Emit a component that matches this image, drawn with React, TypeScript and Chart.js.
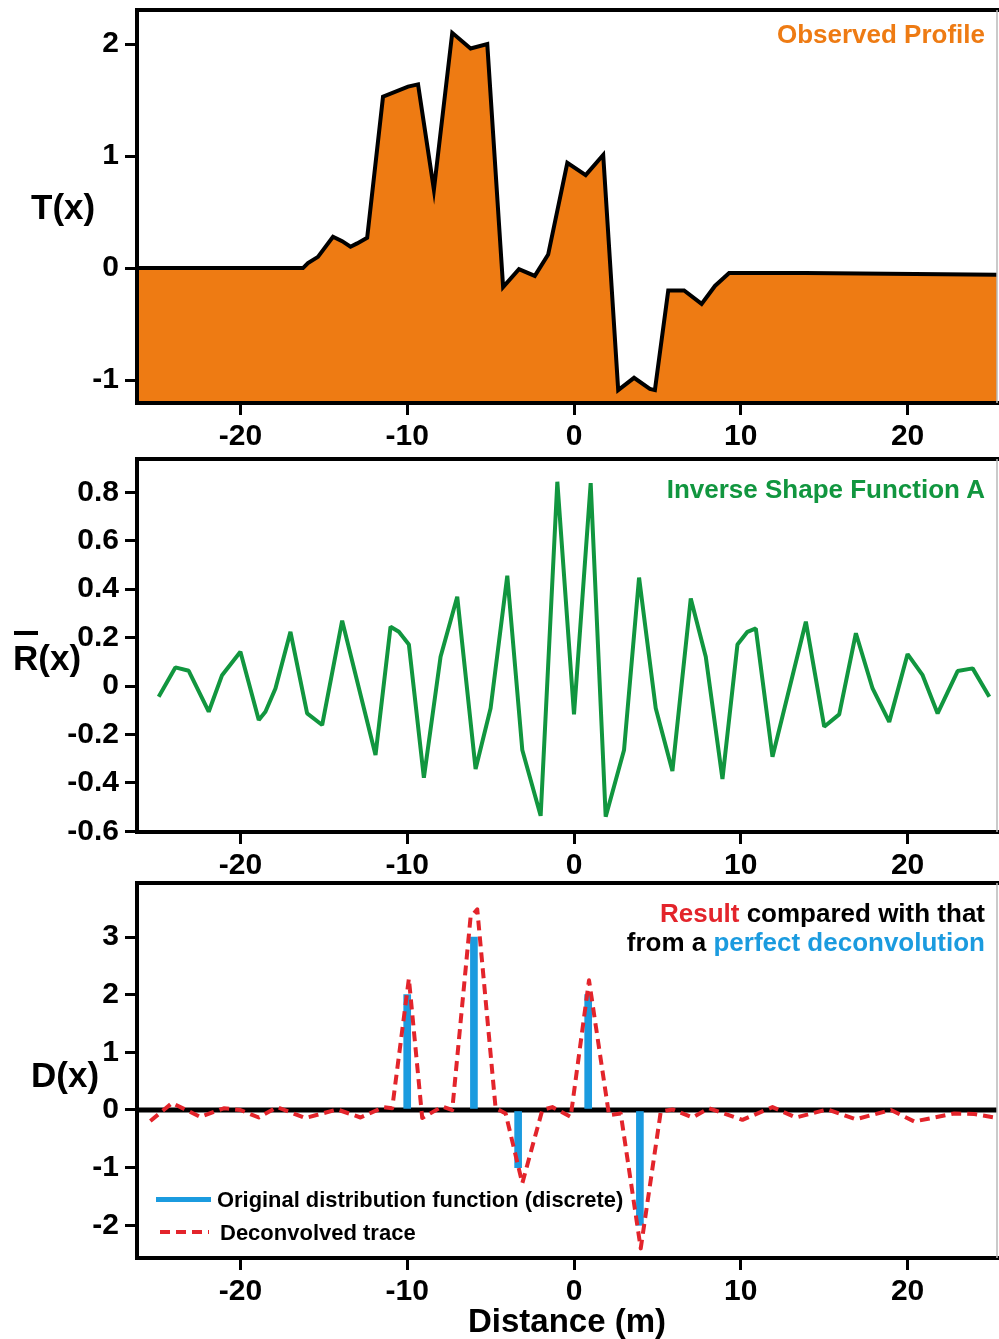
import React, { useEffect, useRef } from 'react';
import { Chart, registerables } from 'chart.js';
Chart.register(...registerables);

// ---------- data ----------
const xTickValues = [-20, -10, 0, 10, 20];
const xTickLabels = ['-20', '-10', '0', '10', '20'];

// Observed profile T(x)
const profileX = [-26.5, -16.25, -15.95, -15.35, -14.45, -13.9, -13.4, -13.0, -12.4, -11.45, -9.95, -9.35, -8.4, -7.3, -6.2, -5.2, -4.25, -3.3, -2.35, -1.55, -0.4, 0.7, 1.75, 2.65, 3.6, 4.55, 4.85, 5.65, 6.6, 7.65, 8.45, 9.3, 13.85, 26];
const profileT = [0, 0, 0.045, 0.1, 0.28, 0.24, 0.19, 0.22, 0.27, 1.53, 1.62, 1.64, 0.7, 2.1, 1.96, 2.0, -0.17, -0.01, -0.07, 0.12, 0.94, 0.83, 1.01, -1.09, -0.98, -1.08, -1.09, -0.2, -0.2, -0.32, -0.16, -0.045, -0.045, -0.06];
const tTickValues = [-1, 0, 1, 2];
const tTickLabels = ['-1', '0', '1', '2'];

// Inverse shape function R(x)
const shapeX = [-24.9, -23.9, -23.1, -21.9, -21.1, -20.0, -18.9, -18.5, -17.9, -17.0, -16.0, -15.1, -13.9, -11.9, -11.0, -10.5, -9.9, -9.0, -8.0, -7.0, -5.9, -5.0, -4.0, -3.1, -2.0, -1.0, 0.0, 1.0, 1.9, 3.0, 3.9, 4.9, 5.9, 7.0, 7.9, 8.9, 9.8, 10.4, 10.9, 11.9, 13.9, 15.0, 15.9, 16.9, 17.9, 18.9, 20.0, 20.9, 21.8, 23.0, 23.9, 24.9];
const shapeR = [-0.044, 0.077, 0.063, -0.106, 0.045, 0.142, -0.14, -0.106, -0.01, 0.224, -0.113, -0.161, 0.27, -0.285, 0.245, 0.224, 0.172, -0.379, 0.121, 0.369, -0.343, -0.092, 0.456, -0.264, -0.536, 0.844, -0.117, 0.838, -0.54, -0.264, 0.448, -0.092, -0.351, 0.362, 0.121, -0.384, 0.172, 0.224, 0.238, -0.292, 0.266, -0.168, -0.117, 0.218, -0.01, -0.148, 0.132, 0.045, -0.113, 0.062, 0.073, -0.044];
const rTickValues = [-0.6, -0.4, -0.2, 0, 0.2, 0.4, 0.6, 0.8];
const rTickLabels = ['-0.6', '-0.4', '-0.2', '0', '0.2', '0.4', '0.6', '0.8'];

// Deconvolved trace D(x)
const traceX = [-25.4, -24.1, -22.4, -21.0, -20.0, -18.9, -17.8, -16.1, -14.2, -12.8, -11.4, -10.9, -9.9, -9.1, -7.9, -7.3, -6.2, -5.8, -4.7, -4.1, -3.1, -1.9, -1.3, -0.2, 0.9, 2.1, 2.8, 4.0, 5.2, 5.9, 7.1, 8.1, 10.1, 11.9, 13.3, 15.2, 16.9, 19.0, 20.4, 22.8, 24.0, 25.4];
const traceD = [-0.19, 0.12, -0.12, 0.03, 0.0, -0.13, 0.05, -0.14, 0.01, -0.13, 0.05, 0.03, 2.28, -0.14, 0.06, 0.0, 3.35, 3.48, 0.03, -0.06, -1.27, 0.0, 0.05, -0.12, 2.25, -0.09, -0.06, -2.4, -0.03, 0.01, -0.13, 0.03, -0.17, 0.05, -0.13, 0.01, -0.16, 0.0, -0.2, -0.06, -0.07, -0.14];
// Original distribution function (discrete)
const spikeX = [-10, -6, -3.35, 0.85, 3.95];
const spikeD = [2, 3, -1, 2, -2];
const dTickValues = [-2, -1, 0, 1, 2, 3];
const dTickLabels = ['-2', '-1', '0', '1', '2', '3'];

// ---------- styling ----------
const FONT = '"Liberation Sans", Arial, Helvetica, sans-serif';
const ORANGE = '#EE7B13';
const GREEN = '#11963F';
const RED = '#E3242B';
const BLUE = '#1B9BDF';
const X_MIN = -26.2;
const X_MAX = 25.36;
const tickFont = { family: FONT, size: 30, weight: 'bold' as const };

const pts = (xs: number[], ys: number[]) => xs.map((x, i) => ({ x, y: ys[i] }));

const framePlugin = {
  id: 'frame',
  afterDatasetsDraw(chart: any) {
    const { ctx, chartArea: a } = chart;
    ctx.save();
    ctx.strokeStyle = '#000';
    ctx.lineWidth = 4;
    ctx.lineCap = 'square';
    ctx.beginPath();
    ctx.moveTo(a.right, a.top);
    ctx.lineTo(a.left, a.top);
    ctx.lineTo(a.left, a.bottom);
    ctx.lineTo(a.right, a.bottom);
    ctx.stroke();
    ctx.strokeStyle = '#b8b8b8';
    ctx.lineWidth = 1.5;
    ctx.lineCap = 'butt';
    ctx.beginPath();
    ctx.moveTo(a.right, a.top);
    ctx.lineTo(a.right, a.bottom);
    ctx.stroke();
    ctx.restore();
  },
};

const zeroLinePlugin = {
  id: 'zeroLine',
  beforeDatasetsDraw(chart: any) {
    const { ctx, chartArea: a, scales } = chart;
    const y = scales.y.getPixelForValue(0);
    ctx.save();
    ctx.strokeStyle = '#000';
    ctx.lineWidth = 5;
    ctx.beginPath();
    ctx.moveTo(a.left, y);
    ctx.lineTo(a.right, y);
    ctx.stroke();
    ctx.restore();
  },
};

function xScale(axisHeight: number) {
  return {
    type: 'linear',
    min: X_MIN,
    max: X_MAX,
    offset: false,
    afterBuildTicks: (s: any) => {
      s.ticks = xTickValues.map((v) => ({ value: v }));
    },
    afterFit: (s: any) => {
      s.height = axisHeight;
      s.paddingLeft = 0;
      s.paddingRight = 0;
    },
    grid: { display: true, drawOnChartArea: false, drawTicks: true, tickLength: 12, color: '#000', lineWidth: 3, offset: false },
    border: { display: false },
    ticks: { font: tickFont, color: '#000', padding: 4, maxRotation: 0, autoSkip: false, callback: (_v: any, i: number) => xTickLabels[i] },
  };
}

function yScale(min: number, max: number, values: number[], labels: string[]) {
  return {
    type: 'linear',
    min,
    max,
    afterBuildTicks: (s: any) => {
      s.ticks = values.map((v) => ({ value: v }));
    },
    afterFit: (s: any) => {
      s.width = 137;
      s.paddingTop = 0;
      s.paddingBottom = 0;
    },
    grid: { display: true, drawOnChartArea: false, drawTicks: true, tickLength: 12, color: '#000', lineWidth: 3 },
    border: { display: false },
    ticks: { font: tickFont, color: '#000', padding: 6, autoSkip: false, callback: (_v: any, i: number) => labels[i] },
  };
}

function baseOptions(padTop: number, scales: any) {
  return {
    responsive: false,
    animation: false,
    devicePixelRatio: 1,
    layout: { padding: { top: padTop, right: 2, left: 0, bottom: 0 } },
    plugins: { legend: { display: false }, tooltip: { enabled: false } },
    elements: { point: { radius: 0 }, line: { tension: 0 } },
    scales,
  };
}

function buildProfile() {
  return {
    type: 'line',
    data: {
      datasets: [
        {
          label: 'Observed Profile',
          data: pts(profileX, profileT),
          borderColor: '#000',
          borderWidth: 4,
          borderJoinStyle: 'miter',
          backgroundColor: ORANGE,
          fill: 'start',
          pointRadius: 0,
        },
      ],
    },
    options: baseOptions(10, { x: xScale(47), y: yScale(-1.205, 2.304, tTickValues, tTickLabels) }),
    plugins: [framePlugin],
  };
}

function buildShape() {
  return {
    type: 'line',
    data: {
      datasets: [
        {
          label: 'Inverse Shape Function A',
          data: pts(shapeX, shapeR),
          borderColor: GREEN,
          borderWidth: 4,
          borderJoinStyle: 'bevel',
          fill: false,
          pointRadius: 0,
        },
      ],
    },
    options: baseOptions(9, { x: xScale(48), y: yScale(-0.603, 0.938, rTickValues, rTickLabels) }),
    plugins: [framePlugin],
  };
}

function buildResult() {
  const x: any = xScale(81);
  x.title = {
    display: true,
    text: 'Distance (m)',
    color: '#000',
    font: { family: FONT, size: 33, weight: 'bold' },
    padding: { top: 0, bottom: -4 },
  };
  return {
    type: 'line',
    data: {
      datasets: [
        {
          type: 'line',
          label: 'Deconvolved trace',
          data: pts(traceX, traceD),
          borderColor: RED,
          borderWidth: 4,
          borderDash: [10, 6],
          borderJoinStyle: 'round',
          fill: false,
          pointRadius: 0,
        },
        {
          type: 'bar',
          label: 'Original distribution function (discrete)',
          data: pts(spikeX, spikeD),
          backgroundColor: BLUE,
          borderWidth: 0,
          barThickness: 7,
          grouped: false,
        },
      ],
    },
    options: baseOptions(3, { x, y: yScale(-2.567, 3.937, dTickValues, dTickLabels) }),
    plugins: [zeroLinePlugin, framePlugin],
  };
}

function ChartCanvas({ top, height, build }: { top: number; height: number; build: () => any }) {
  const ref = useRef<HTMLCanvasElement>(null);
  useEffect(() => {
    const chart = new Chart(ref.current as HTMLCanvasElement, build());
    return () => chart.destroy();
  }, []);
  return <canvas ref={ref} width={999} height={height} style={{ position: 'absolute', left: 0, top, width: 999, height }} />;
}

function Txt({ children, center, size, left, right, color = '#000' }: any) {
  const style: any = {
    position: 'absolute',
    top: center - 0.49 * size,
    fontSize: size,
    lineHeight: 1,
    fontWeight: 'bold',
    color,
    whiteSpace: 'nowrap',
    fontFamily: FONT,
  };
  if (left !== undefined) style.left = left;
  if (right !== undefined) style.right = right;
  return <div style={style}>{children}</div>;
}

export default function App() {
  return (
    <div style={{ position: 'absolute', left: 0, top: 0, width: 999, height: 1339, background: '#fff', overflow: 'hidden', fontFamily: FONT }}>
      <ChartCanvas top={0} height={450} build={buildProfile} />
      <ChartCanvas top={450} height={430} build={buildShape} />
      <ChartCanvas top={880} height={459} build={buildResult} />

      <Txt center={34} size={26} right={14} color={ORANGE}>Observed Profile</Txt>
      <Txt center={489} size={26} right={14} color={GREEN}>Inverse Shape Function A</Txt>
      <Txt center={913} size={26} right={14}>
        <span style={{ color: RED }}>Result</span> compared with that
      </Txt>
      <Txt center={942} size={26} right={14}>
        from a <span style={{ color: BLUE }}>perfect deconvolution</span>
      </Txt>

      <Txt center={206} size={35} left={31}>T(x)</Txt>
      <Txt center={657} size={35} left={13}>
        <span style={{ position: 'relative' }}>
          R
          <span style={{ position: 'absolute', left: 1, right: 0, top: -7, height: 4, background: '#000' }} />
        </span>
        (x)
      </Txt>
      <Txt center={1074} size={35} left={31}>D(x)</Txt>

      <div style={{ position: 'absolute', left: 156, top: 1197, width: 55, height: 5, background: BLUE }} />
      <Txt center={1199.5} size={21.9} left={217}>Original distribution function (discrete)</Txt>
      <div
        style={{
          position: 'absolute',
          left: 160,
          top: 1230,
          width: 49,
          height: 4,
          background: `repeating-linear-gradient(to right, ${RED} 0 10px, transparent 10px 16px)`,
        }}
      />
      <Txt center={1232.5} size={22} left={220}>Deconvolved trace</Txt>
    </div>
  );
}
